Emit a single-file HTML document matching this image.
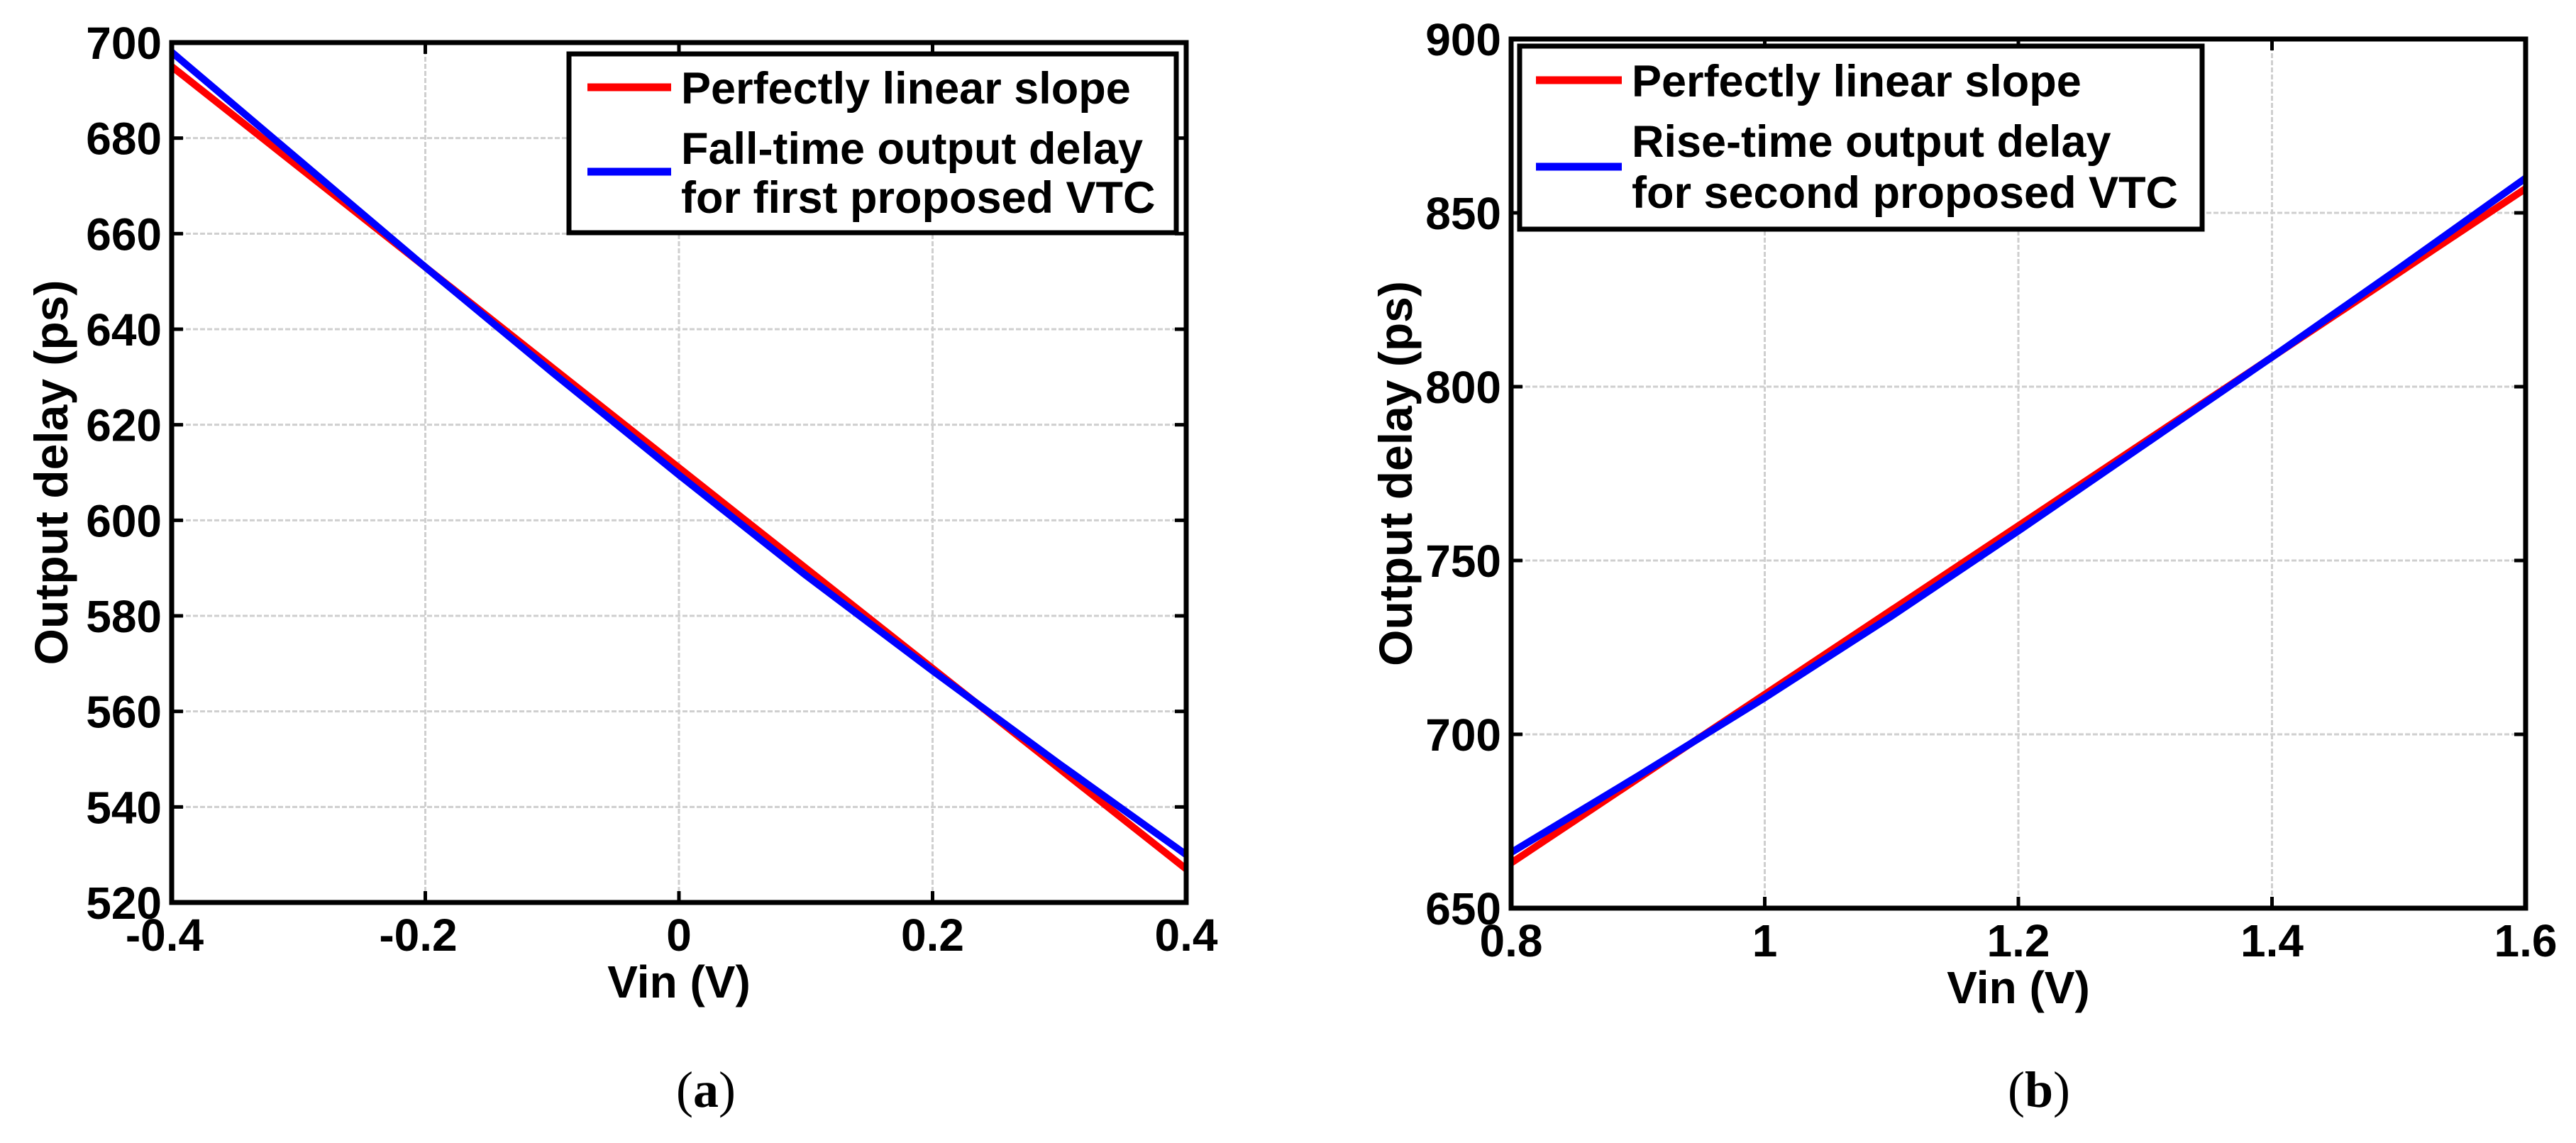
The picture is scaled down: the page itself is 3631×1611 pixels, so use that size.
<!DOCTYPE html>
<html><head><meta charset="utf-8">
<style>
html,body{margin:0;padding:0;background:#fff;}
svg{display:block;}
text{font-family:"Liberation Sans",Arial,sans-serif;font-weight:bold;fill:#000;}
.cap{font-family:"Liberation Serif",serif;font-weight:normal;}
</style></head>
<body>
<svg id="fig" width="3631" height="1611" viewBox="0 0 3631 1611" xmlns="http://www.w3.org/2000/svg"></svg>
<script>
// ---- Chart (a) data ----
const xA = [-0.4,-0.3,-0.2,-0.1,0,0.1,0.2,0.3,0.4];
const redA = [695,674,653,632,611,590,569,548,527];
const blueA = [698,675.5,653,631,609.5,588.5,568.5,549,530];
const xTicksA = [-0.4,-0.2,0,0.2,0.4];
const xTickLabelsA = ["-0.4","-0.2","0","0.2","0.4"];
const yTicksA = [520,540,560,580,600,620,640,660,680,700];
const legendA = ["Perfectly linear slope","Fall-time output delay","for first proposed VTC"];
// ---- Chart (b) data ----
const xB = [0.8,0.9,1.0,1.1,1.2,1.3,1.4,1.5,1.6];
const redB = [663,687.25,711.5,735.75,760,784.25,808.5,832.75,857];
const blueB = [666,688,710.5,734,758.5,783.5,808.5,834,860];
const xTicksB = [0.8,1,1.2,1.4,1.6];
const xTickLabelsB = ["0.8","1","1.2","1.4","1.6"];
const yTicksB = [650,700,750,800,850,900];
const legendB = ["Perfectly linear slope","Rise-time output delay","for second proposed VTC"];

const NS="http://www.w3.org/2000/svg";
const svg=document.getElementById('fig');
function mk(tag,attrs,parent){const e=document.createElementNS(NS,tag);for(const k in attrs)e.setAttribute(k,attrs[k]);(parent||svg).appendChild(e);return e;}

function chart(cfg){
  const g=mk('g',{});
  
  
  const L=cfg.L,R=cfg.R,T=cfg.T,B=cfg.B;
  const sx=v=>L+(v-cfg.xmin)/(cfg.xmax-cfg.xmin)*(R-L);
  const sy=v=>B-(v-cfg.ymin)/(cfg.ymax-cfg.ymin)*(B-T);
  // grid
  cfg.xTicks.forEach(v=>{
    const l=mk('line',{x1:sx(v),x2:sx(v),y1:T,y2:B,stroke:'#cfcfcf','stroke-width':3,'stroke-dasharray':'7 3'},g);
    
    
  });
  cfg.yTicks.forEach(v=>{
    const l=mk('line',{x1:L,x2:R,y1:sy(v),y2:sy(v),stroke:'#cfcfcf','stroke-width':3,'stroke-dasharray':'7 3'},g);
    
    
  });
  // series
  [[cfg.red,'#ff0000','linear-slope-line'],[cfg.blue,'#0000ff','output-delay-line']].forEach(s=>{
    const pts=cfg.xs.map((x,i)=>sx(x)+','+sy(s[0][i])).join(' ');
    const p=mk('polyline',{points:pts,fill:'none',stroke:s[1],'stroke-width':10,'stroke-linejoin':'round'},g);
    
    
  });
  // ticks
  cfg.xTicks.forEach((v,i)=>{
    mk('line',{x1:sx(v),x2:sx(v),y1:B,y2:B-16,stroke:'#000','stroke-width':5},g);
    mk('line',{x1:sx(v),x2:sx(v),y1:T,y2:T+16,stroke:'#000','stroke-width':5},g);
    const t=mk('text',{x:sx(v)-(cfg.xTickLabels[i][0]==='-'?10:0),y:cfg.xLabY,'font-size':64,'text-anchor':'middle'},g);
    t.textContent=cfg.xTickLabels[i];
    
    
  });
  cfg.yTicks.forEach(v=>{
    mk('line',{x1:L,x2:L+16,y1:sy(v),y2:sy(v),stroke:'#000','stroke-width':5},g);
    mk('line',{x1:R,x2:R-16,y1:sy(v),y2:sy(v),stroke:'#000','stroke-width':5},g);
    const t=mk('text',{x:L-14,y:sy(v)+23,'font-size':64,'text-anchor':'end'},g);
    t.textContent=String(v);
    
    
  });
  // frame
  const f=mk('rect',{x:L,y:T,width:R-L,height:B-T,fill:'none',stroke:'#000','stroke-width':7},g);
  
  
  // legend
  const lg=mk('g',{},g);
  
  
  const lb=cfg.leg;
  mk('rect',{x:lb.x1,y:lb.y1,width:lb.x2-lb.x1,height:lb.y2-lb.y1,fill:'#fff',stroke:'#000','stroke-width':7},lg);
  const r1=mk('line',{x1:lb.lx1,x2:lb.lx2,y1:lb.ry,y2:lb.ry,stroke:'#ff0000','stroke-width':11},lg);
  
  
  const b1=mk('line',{x1:lb.lx1,x2:lb.lx2,y1:lb.by,y2:lb.by,stroke:'#0000ff','stroke-width':11},lg);
  
  
  cfg.legend.forEach((s,i)=>{
    const t=mk('text',{x:lb.tx,y:lb.ty[i],'font-size':63},lg);
    t.textContent=s;
    
    
  });
  // axis titles
  const xt=mk('text',{x:(L+R)/2,y:cfg.xTitleY,'font-size':64,'text-anchor':'middle'},g);
  xt.textContent='Vin (V)';
  
  
  const yc=(T+B)/2;
  const yt=mk('text',{x:cfg.yTitleX,y:yc,'font-size':66,'text-anchor':'middle',transform:`rotate(-90 ${cfg.yTitleX} ${yc})`},g);
  yt.textContent='Output delay (ps)';
  
  
  const cp=mk('text',{x:cfg.capX,y:1560,'font-size':72,'text-anchor':'middle',class:'cap'},g);
  cp.innerHTML='(<tspan font-weight="bold">'+cfg.cap+'</tspan>)';
  
  
}

chart({name:'chart-a',L:242,R:1672,T:60,B:1272,xmin:-0.4,xmax:0.4,ymin:520,ymax:700,
  xs:xA,red:redA,blue:blueA,xTicks:xTicksA,xTickLabels:xTickLabelsA,yTicks:yTicksA,legend:legendA,
  xLabY:1340,xTitleY:1406,yTitleX:95,capX:995,cap:'a',
  leg:{x1:802,y1:76,x2:1658,y2:328,lx1:828,lx2:946,ry:123,by:242,tx:960,ty:[146,231,300]}});
chart({name:'chart-b',L:2130,R:3560,T:55,B:1280,xmin:0.8,xmax:1.6,ymin:650,ymax:900,
  xs:xB,red:redB,blue:blueB,xTicks:xTicksB,xTickLabels:xTickLabelsB,yTicks:yTicksB,legend:legendB,
  xLabY:1348,xTitleY:1414,yTitleX:1990,capX:2874,cap:'b',
  leg:{x1:2142,y1:65,x2:3104,y2:323,lx1:2165,lx2:2286,ry:113,by:235,tx:2300,ty:[136,221,293]}});
</script>
</body></html>
